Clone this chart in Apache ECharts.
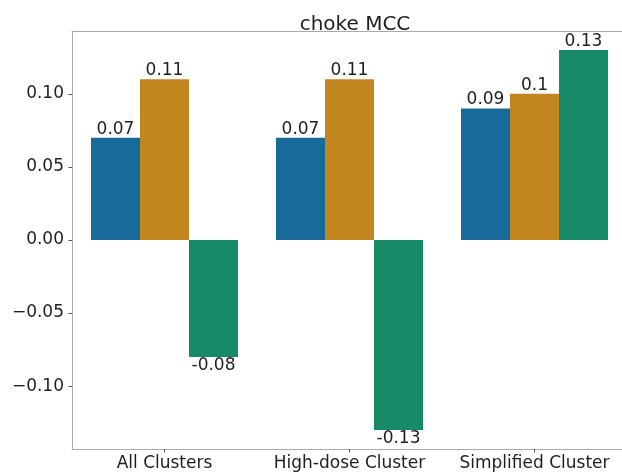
<!DOCTYPE html>
<html>
<head>
<meta charset="utf-8">
<script src="https://cdn.jsdelivr.net/npm/echarts@6/dist/echarts.min.js"></script>
<style>
  html, body { margin: 0; padding: 0; background: #fff; }
  #chart { width: 622px; height: 475px; }
</style>
</head>
<body>
<div id="chart"></div>
<script>
// Cluster groups along the x axis
const categories = ['All Clusters', 'High-dose Cluster', 'Simplified Cluster'];

// MCC per method for each cluster group
const seriesNames = ['Method 1', 'Method 2', 'Method 3'];
const method1 = [0.07, 0.07, 0.09];
const method2 = [0.11, 0.11, 0.1];
const method3 = [-0.08, -0.13, 0.13];

// Y tick values
const yTicks = [-0.1, -0.05, 0, 0.05, 0.1];

const colors = ['#186a9b', '#c2861f', '#178a68'];
const font = 'DejaVu Sans';
const textColor = '#1f1f1f';
const spineColor = '#aaa';

function barSeries(name, values, color) {
  return {
    name: name,
    type: 'bar',
    xAxisIndex: 0,
    barWidth: 49,
    barGap: '0%',
    itemStyle: { color: color },
    label: {
      show: true,
      distance: 0,
      fontFamily: font,
      fontSize: 17,
      color: textColor,
      formatter: p => String(p.value)
    },
    data: values.map(v => ({
      value: v,
      label: { position: v < 0 ? 'bottom' : 'top' }
    }))
  };
}

const chart = echarts.init(document.getElementById('chart'), null, { renderer: 'canvas' });
chart.setOption({
  backgroundColor: '#fff',
  animation: false,
  title: {
    text: 'choke MCC',
    left: 350,
    top: 10,
    textAlign: 'center',
    textStyle: { fontFamily: font, fontSize: 20, fontWeight: 'normal', color: textColor }
  },
  grid: {
    left: 72,
    top: 31,
    width: 555,
    height: 418,
    show: false,
    containLabel: false,
    outerBoundsMode: 'none'
  },
  xAxis: [
    {
      type: 'category',
      data: categories,
      position: 'bottom',
      axisLine: { onZero: false, lineStyle: { color: spineColor, width: 1 } },
      axisTick: { show: true, alignWithLabel: true, length: 3.5, lineStyle: { color: '#555' } },
      axisLabel: { interval: 0, margin: 6, fontFamily: font, fontSize: 17, color: textColor }
    },
    {
      // top spine
      type: 'category',
      data: categories,
      position: 'top',
      axisLine: { onZero: false, lineStyle: { color: spineColor, width: 1 } },
      axisTick: { show: false },
      axisLabel: { show: false }
    }
  ],
  yAxis: {
    type: 'value',
    min: -0.143,
    max: 0.143,
    splitLine: { show: false },
    axisLine: { show: true, lineStyle: { color: spineColor, width: 1 } },
    axisTick: { show: true, length: 3.5, customValues: yTicks, lineStyle: { color: '#555' } },
    axisLabel: {
      margin: 8,
      fontFamily: font,
      fontSize: 17,
      color: textColor,
      customValues: yTicks,
      formatter: v => (v < 0 ? '\u2212' : '') + Math.abs(v).toFixed(2)
    }
  },
  series: [
    barSeries(seriesNames[0], method1, colors[0]),
    barSeries(seriesNames[1], method2, colors[1]),
    barSeries(seriesNames[2], method3, colors[2])
  ]
});
</script>
</body>
</html>
